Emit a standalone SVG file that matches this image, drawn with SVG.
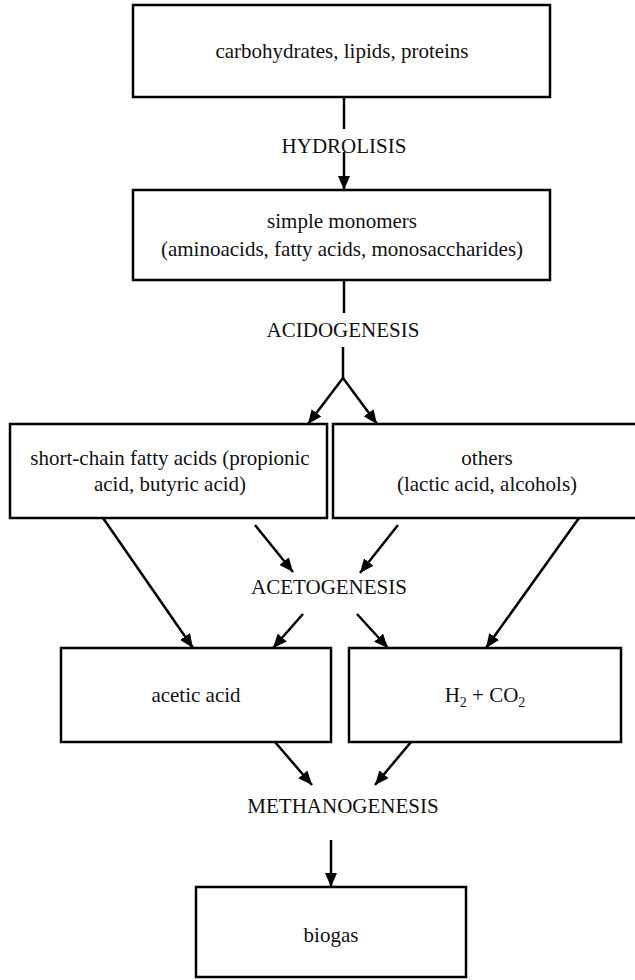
<svg xmlns="http://www.w3.org/2000/svg" width="635" height="980" viewBox="0 0 635 980">
<style>
.box{fill:#fff;stroke:#000;stroke-width:2.5}
.t{font-family:'Liberation Serif','Times New Roman',serif;font-size:21px;fill:#111;text-anchor:middle}
.c{stroke:#000;stroke-width:2.5;fill:none}
</style>
<defs>
<marker id="ah" viewBox="0 0 14 12" refX="14" refY="6" markerWidth="14" markerHeight="12" markerUnits="userSpaceOnUse" orient="auto">
<path d="M0,0 L14,6 L0,12 z" fill="#000"/>
</marker>
</defs>
<rect width="635" height="980" fill="#fff"/>
<g id="connectors">
<line class="c" x1="344" y1="97" x2="344" y2="129"/>
<line class="c" x1="344" y1="152" x2="344" y2="190" marker-end="url(#ah)"/>
<line class="c" x1="344" y1="280" x2="344" y2="313"/>
<line class="c" x1="343" y1="347" x2="343" y2="378"/>
<line class="c" x1="343" y1="378" x2="308" y2="424" marker-end="url(#ah)"/>
<line class="c" x1="343" y1="378" x2="377" y2="424" marker-end="url(#ah)"/>
<line class="c" x1="103" y1="518" x2="193" y2="648" marker-end="url(#ah)"/>
<line class="c" x1="255" y1="525" x2="293" y2="572" marker-end="url(#ah)"/>
<line class="c" x1="398" y1="525" x2="360" y2="573" marker-end="url(#ah)"/>
<line class="c" x1="579" y1="518" x2="486" y2="648" marker-end="url(#ah)"/>
<line class="c" x1="303" y1="614" x2="273" y2="648" marker-end="url(#ah)"/>
<line class="c" x1="357" y1="614" x2="388" y2="648" marker-end="url(#ah)"/>
<line class="c" x1="275" y1="742" x2="312" y2="785" marker-end="url(#ah)"/>
<line class="c" x1="411" y1="742" x2="375" y2="785" marker-end="url(#ah)"/>
<line class="c" x1="331" y1="840" x2="331" y2="887" marker-end="url(#ah)"/>
</g>
<g id="labels" font-family="Liberation Serif, serif">
<text class="t" x="344" y="153">HYDROLISIS</text>
<text class="t" x="343" y="337">ACIDOGENESIS</text>
<text class="t" x="329" y="594">ACETOGENESIS</text>
<text class="t" x="343" y="813">METHANOGENESIS</text>
</g>
<g id="n1" font-family="Liberation Serif, serif">
<rect class="box" x="133" y="5" width="417" height="92"/>
<text class="t" x="342" y="58">carbohydrates, lipids, proteins</text>
</g>
<g id="n2" font-family="Liberation Serif, serif">
<rect class="box" x="133" y="190" width="417" height="90"/>
<text class="t" x="342" y="228">simple monomers</text>
<text class="t" x="342" y="256">(aminoacids, fatty acids, monosaccharides)</text>
</g>
<g id="n3" font-family="Liberation Serif, serif">
<rect class="box" x="10" y="424" width="317" height="94"/>
<text class="t" x="170" y="465">short-chain fatty acids (propionic</text>
<text class="t" x="170" y="491">acid, butyric acid)</text>
</g>
<g id="n4" font-family="Liberation Serif, serif">
<rect class="box" x="333" y="424" width="308" height="94"/>
<text class="t" x="487" y="465">others</text>
<text class="t" x="487" y="491">(lactic acid, alcohols)</text>
</g>
<g id="n5" font-family="Liberation Serif, serif">
<rect class="box" x="61" y="648" width="270" height="94"/>
<text class="t" x="196" y="702">acetic acid</text>
</g>
<g id="n6" font-family="Liberation Serif, serif">
<rect class="box" x="349" y="648" width="272" height="94"/>
<text class="t" x="485" y="702">H<tspan font-size="14" dy="5">2</tspan><tspan dy="-5"> + CO</tspan><tspan font-size="14" dy="5">2</tspan></text>
</g>
<g id="n7" font-family="Liberation Serif, serif">
<rect class="box" x="196" y="887" width="270" height="90"/>
<text class="t" x="331" y="942">biogas</text>
</g>
</svg>
